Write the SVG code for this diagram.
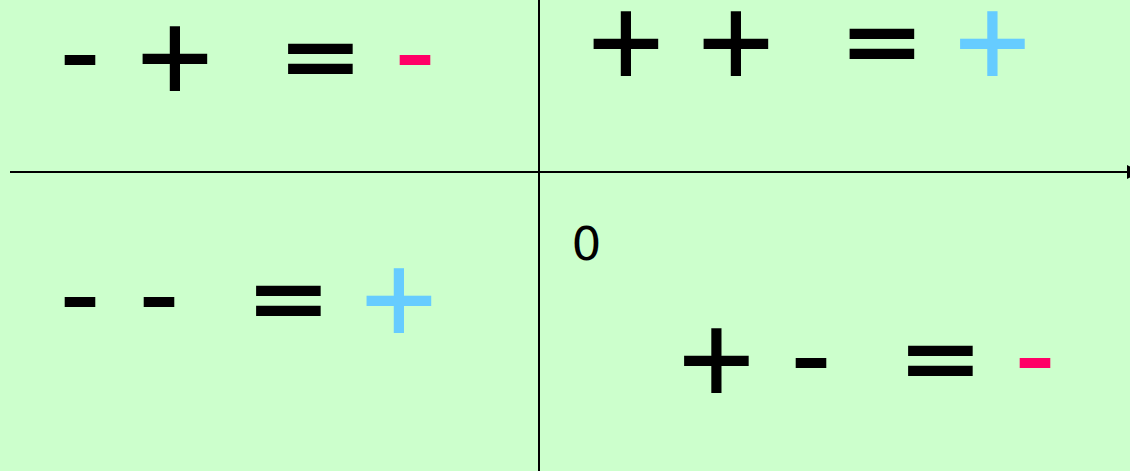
<svg xmlns="http://www.w3.org/2000/svg" width="1130" height="471" viewBox="0 0 1130 471">
<style>
.s{font-family:"DejaVu Sans",sans-serif;font-size:100px;text-anchor:middle;fill:#000;stroke:#000;stroke-width:2}
.r{fill:#FF0066;stroke:#FF0066}
.b{fill:#66CCFF;stroke:#66CCFF}
.z{font-family:"DejaVu Sans",sans-serif;font-size:47px;text-anchor:middle;fill:#000}
.ax{stroke:#000;stroke-width:2;fill:none}
</style>
<rect width="1130" height="471" fill="#CCFFCC"/>
<g id="axes">
<line class="ax" x1="10" y1="172" x2="1128" y2="172"/>
<polygon points="1127,165 1127,179 1141,172" fill="#000"/>
<line class="ax" x1="539" y1="0" x2="539" y2="471"/>
</g>
<g id="q1">
<text class="s" transform="translate(80,87) scale(1.08,1)">-</text>
<text class="s" x="175" y="89.5">+</text>
<text class="s" x="320.5" y="89.5">=</text>
<text class="s r" transform="translate(415,87) scale(1.08,1)">-</text>
</g>
<g id="q2">
<text class="s" x="626" y="74.5">+</text>
<text class="s" x="736" y="74.5">+</text>
<text class="s" x="882" y="74.5">=</text>
<text class="s b" x="992.5" y="74.5">+</text>
</g>
<g id="q3">
<text class="s" transform="translate(80,329) scale(1.08,1)">-</text>
<text class="s" transform="translate(159,329) scale(1.08,1)">-</text>
<text class="s" x="288.5" y="331.5">=</text>
<text class="s b" x="399" y="331.5">+</text>
</g>
<g id="q4">
<text class="z" x="586.5" y="259.5">0</text>
<text class="s" x="716.5" y="392">+</text>
<text class="s" transform="translate(811,390) scale(1.08,1)">-</text>
<text class="s" x="940.5" y="392">=</text>
<text class="s r" transform="translate(1035,390) scale(1.08,1)">-</text>
</g>
</svg>
